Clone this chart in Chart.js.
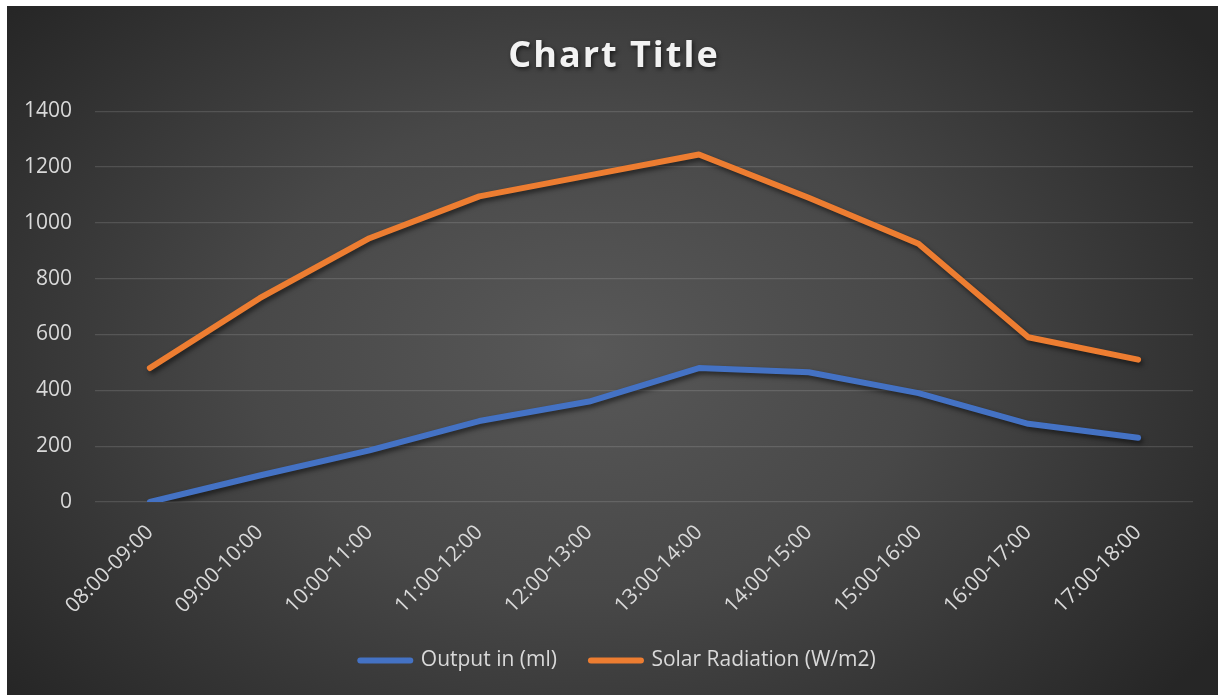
<!DOCTYPE html>
<html>
<head>
<meta charset="utf-8">
<script src="https://cdn.jsdelivr.net/npm/chart.js@4"></script>
<style>
  html, body { margin: 0; padding: 0; background: #ffffff; overflow: hidden; }
  #wrap { position: absolute; left: 7px; top: 6px; width: 1211px; height: 689px; }
</style>
</head>
<body>
<div id="wrap"><canvas id="chart"></canvas></div>
<script>
// Hourly intervals
const categories = ['08:00-09:00', '09:00-10:00', '10:00-11:00', '11:00-12:00', '12:00-13:00',
                    '13:00-14:00', '14:00-15:00', '15:00-16:00', '16:00-17:00', '17:00-18:00'];
// Water output per hour (ml)
const outputMl = [0, 95, 185, 290, 360, 480, 465, 390, 280, 230];
// Solar radiation (W/m2)
const solarRadiation = [480, 730, 945, 1095, 1170, 1245, 1090, 925, 590, 510];
// Value axis ticks
const yTicks = [0, 200, 400, 600, 800, 1000, 1200, 1400];

const BLUE = '#4472C4';
const ORANGE = '#ED7D31';
const TEXT = '#d9d9d9';
const FONT = "'Open Sans', 'DejaVu Sans', sans-serif";

// Dark backdrop with a soft light spot in the middle
const backdrop = {
  id: 'backdrop',
  beforeDraw(chart) {
    const { ctx, width, height } = chart;
    ctx.save();
    const cx = width * 0.48, cy = height * 0.5;
    const rx = width * 0.62, ry = height * 0.78;
    ctx.translate(cx, cy);
    ctx.scale(rx / ry, 1);
    const g = ctx.createRadialGradient(0, 0, 0, 0, 0, ry);
    g.addColorStop(0, '#585858');
    g.addColorStop(0.45, '#484848');
    g.addColorStop(1, '#262626');
    ctx.fillStyle = g;
    ctx.fillRect(-width, -height, width * 3, height * 3);
    ctx.restore();
  }
};

// Drop shadow under the series lines
const lineShadow = {
  id: 'lineShadow',
  beforeDatasetDraw(chart) {
    const ctx = chart.ctx;
    ctx.save();
    ctx.shadowColor = 'rgba(0,0,0,0.55)';
    ctx.shadowBlur = 5;
    ctx.shadowOffsetX = 2;
    ctx.shadowOffsetY = 3;
  },
  afterDatasetDraw(chart) {
    chart.ctx.restore();
  }
};

// Title lettering (spacing + shadow) and centring of title and legend on the whole canvas
const blockStyle = {
  id: 'blockStyle',
  afterLayout(chart) {
    const title = chart.titleBlock;
    if (title && !title._styled) {
      const orig = title.draw.bind(title);
      title.draw = function () {
        const ctx = chart.ctx;
        ctx.save();
        ctx.translate(14, 2);
        ctx.letterSpacing = '2px';
        ctx.shadowColor = 'rgba(0,0,0,0.6)';
        ctx.shadowBlur = 4;
        ctx.shadowOffsetX = 1.5;
        ctx.shadowOffsetY = 2;
        orig();
        ctx.restore();
      };
      title._styled = true;
    }
    const legend = chart.legend;
    if (legend && !legend._styled) {
      const origL = legend.draw.bind(legend);
      legend.draw = function () {
        const ctx = chart.ctx;
        ctx.save();
        ctx.translate(18, 0);
        origL();
        ctx.restore();
      };
      legend._styled = true;
    }
  }
};

const baseLabels = Chart.defaults.plugins.legend.labels.generateLabels;

new Chart(document.getElementById('chart'), {
  type: 'line',
  data: {
    labels: categories,
    datasets: [
      {
        label: 'Output in (ml)',
        data: outputMl,
        borderColor: BLUE,
        backgroundColor: BLUE,
        borderWidth: 6,
        borderCapStyle: 'round',
        borderJoinStyle: 'round',
        pointRadius: 0,
        pointHoverRadius: 0,
        tension: 0
      },
      {
        label: 'Solar Radiation (W/m2)',
        data: solarRadiation,
        borderColor: ORANGE,
        backgroundColor: ORANGE,
        borderWidth: 6,
        borderCapStyle: 'round',
        borderJoinStyle: 'round',
        pointRadius: 0,
        pointHoverRadius: 0,
        tension: 0
      }
    ]
  },
  options: {
    responsive: true,
    maintainAspectRatio: false,
    animation: false,
    layout: { padding: { left: 0, right: 25, top: 0, bottom: 14 } },
    scales: {
      x: {
        offset: true,
        grid: { display: false, drawTicks: false },
        border: { display: false },
        ticks: {
          color: TEXT,
          font: { family: FONT, size: 21 },
          minRotation: 45,
          maxRotation: 45,
          padding: 18,
          autoSkip: false
        },
        afterFit(scale) { scale.height = 114; }
      },
      y: {
        min: 0,
        max: 1400,
        grid: { color: 'rgba(255,255,255,0.13)', lineWidth: 1.3, drawTicks: false },
        border: { display: false },
        afterBuildTicks(scale) { scale.ticks = yTicks.map(v => ({ value: v })); },
        ticks: {
          color: TEXT,
          font: { family: FONT, size: 21 },
          padding: 23,
          callback: (v) => String(v)
        },
        afterFit(scale) { scale.width = 88; }
      }
    },
    plugins: {
      title: {
        display: true,
        text: 'Chart Title',
        color: '#f2f2f2',
        font: { family: FONT, size: 36, weight: 'bold', lineHeight: 1.2 },
        padding: { top: 27, bottom: 35 }
      },
      legend: {
        position: 'bottom',
        labels: {
          color: TEXT,
          font: { family: FONT, size: 21 },
          usePointStyle: true,
          pointStyleWidth: 50,
          pointStyle: 'line',
          padding: 34,
          generateLabels(chart) {
            return baseLabels(chart).map((item, i) => Object.assign(item, {
              lineWidth: 6,
              lineCap: 'round',
              strokeStyle: chart.data.datasets[i].borderColor
            }));
          }
        }
      },
      tooltip: { enabled: false }
    }
  },
  plugins: [backdrop, lineShadow, blockStyle]
});
</script>
</body>
</html>
